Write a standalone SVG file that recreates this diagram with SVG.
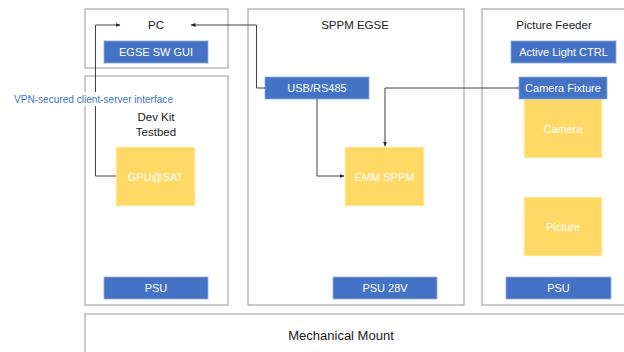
<svg xmlns="http://www.w3.org/2000/svg" width="624" height="352" viewBox="0 0 624 352">
<defs>
<marker id="ah" viewBox="0 0 10 10" refX="9" refY="5" markerWidth="5" markerHeight="5" orient="auto" markerUnits="strokeWidth">
<path d="M0,1 L10,5 L0,9 z" fill="#262626"/>
</marker>
<style>
.cont{fill:#ffffff;stroke:#b0b0b0;stroke-width:1.3}
.blue{fill:#4472C4;stroke:#8faadc;stroke-width:0.8}
.yel{fill:#FFD966;stroke:#fff2cc;stroke-width:0.8}
text{font-family:"Liberation Sans","Open Sans",Arial,sans-serif;text-anchor:middle;dominant-baseline:central}
.t{font-size:11.5px;fill:#1a1a1a}
.w{font-size:11px;fill:#ffffff}
.c{fill:none;stroke:#404040;stroke-width:1}
</style>
</defs>
<rect width="624" height="352" fill="#ffffff"/>
<g id="pc">
<rect class="cont" x="85" y="9" width="143" height="59"/>
<text class="t" x="156" y="25">PC</text>
</g>
<g id="egse-sw-gui">
<rect class="blue" x="104" y="41" width="104" height="22"/>
<text class="w" x="156" y="52">EGSE SW GUI</text>
</g>
<g id="devkit">
<rect class="cont" x="85" y="76" width="143" height="229"/>
<text class="t" x="156" y="117">Dev Kit</text>
<text class="t" x="156" y="132">Testbed</text>
</g>
<g id="gpu">
<rect class="yel" x="116" y="147" width="79" height="59"/>
<text class="w" x="155.5" y="176.5">GPU@SAT</text>
</g>
<g id="psu1">
<rect class="blue" x="104" y="277" width="104" height="22"/>
<text class="w" x="156" y="288">PSU</text>
</g>
<g id="sppm-egse">
<rect class="cont" x="248" y="9" width="216" height="296"/>
<text class="t" x="355" y="25">SPPM EGSE</text>
</g>
<g id="usb">
<rect class="blue" x="265" y="77" width="104" height="22"/>
<text class="w" x="317" y="88">USB/RS485</text>
</g>
<g id="emm">
<rect class="yel" x="345" y="147" width="79" height="59"/>
<text class="w" x="384.5" y="176.5">EMM SPPM</text>
</g>
<g id="psu28">
<rect class="blue" x="333" y="277" width="104" height="22"/>
<text class="w" x="385" y="288">PSU 28V</text>
</g>
<g id="picture-feeder">
<rect class="cont" x="482" y="9" width="160" height="296"/>
<text class="t" x="554" y="25">Picture Feeder</text>
</g>
<g id="active-light">
<rect class="blue" x="511" y="41" width="105" height="22"/>
<text class="w" x="563.5" y="52">Active Light CTRL</text>
</g>
<g id="camera">
<rect class="yel" x="524" y="99" width="78" height="59"/>
<text class="w" x="563" y="128.5">Camera</text>
</g>
<g id="camera-fixture">
<rect class="blue" x="519" y="77" width="88" height="22"/>
<text class="w" x="563" y="88">Camera Fixture</text>
</g>
<g id="picture">
<rect class="yel" x="524" y="197" width="78" height="59"/>
<text class="w" x="563" y="226.5">Picture</text>
</g>
<g id="psu3">
<rect class="blue" x="506" y="277" width="105" height="22"/>
<text class="w" x="558.5" y="288">PSU</text>
</g>
<g id="mech">
<rect class="cont" x="85" y="314" width="560" height="60"/>
<text class="t" x="341" y="335" style="font-size:13px">Mechanical Mount</text>
</g>
<g id="connectors">
<path class="c" d="M116,176 H95.5 V25 H120" marker-end="url(#ah)"/>
<path class="c" d="M265,88 H256.5 V25 H191" marker-end="url(#ah)"/>
<path class="c" d="M317,99 V176 H344" marker-end="url(#ah)"/>
<path class="c" d="M519,88 H385 V146" marker-end="url(#ah)"/>
<rect x="12" y="92" width="164" height="14" fill="#ffffff"/>
<text x="93.5" y="99" textLength="159" lengthAdjust="spacingAndGlyphs" style="font-size:10px;fill:#4472C4">VPN-secured client-server interface</text>
</g>
</svg>
